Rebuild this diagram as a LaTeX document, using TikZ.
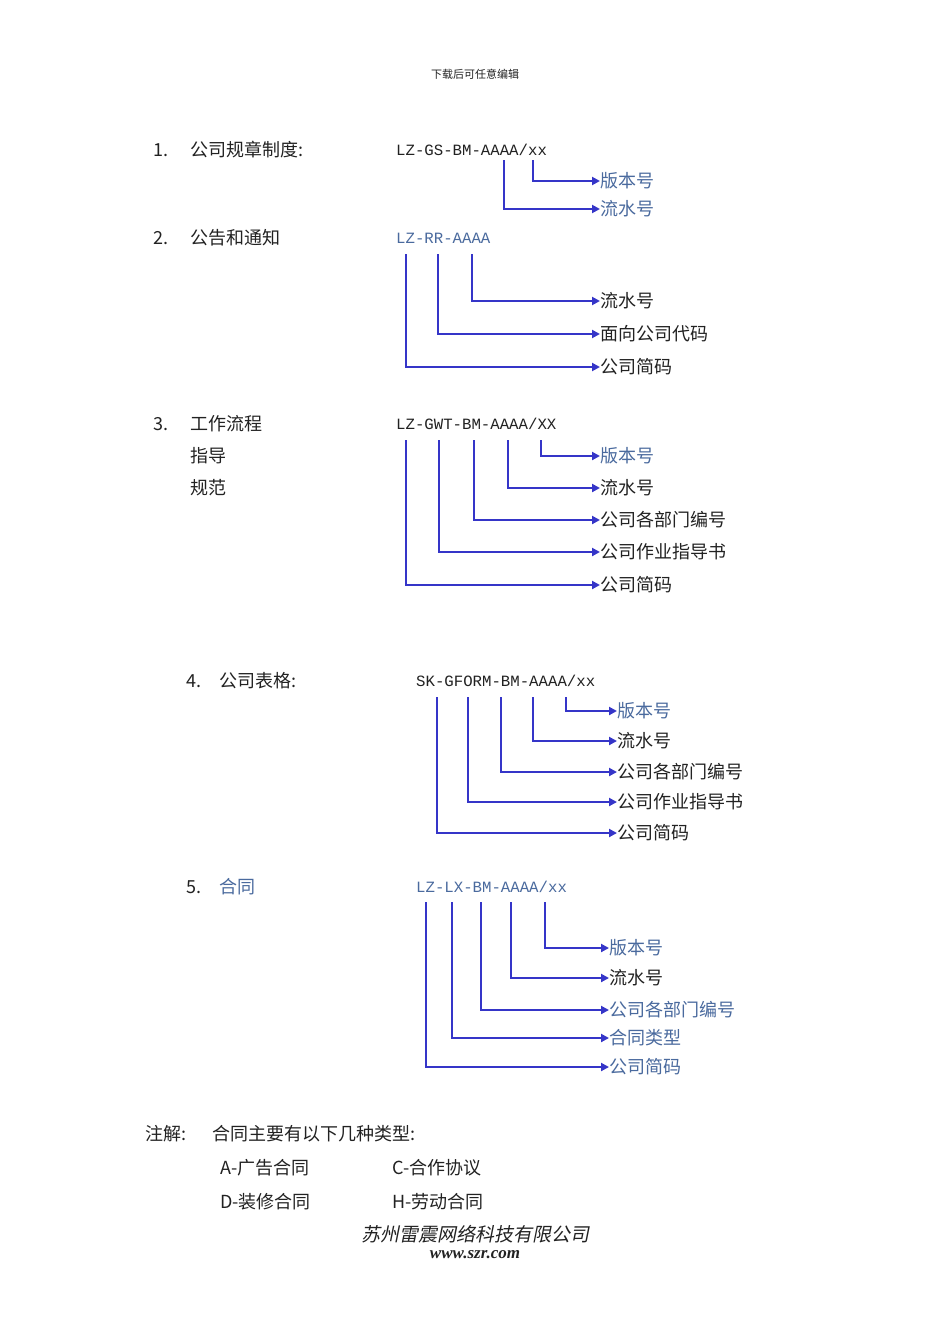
\documentclass[tikz,border=0pt]{standalone}
\usepackage{fontspec}
\setmainfont{Liberation Serif}
\newfontfamily\cjk{Noto Sans CJK SC}
\newfontfamily\cjkit[FakeSlant=0.2]{Noto Sans CJK SC}
\newfontfamily\codefont{Liberation Mono}
\usetikzlibrary{arrows.meta}
\definecolor{lineblue}{HTML}{3535C8}
\definecolor{txtblue}{HTML}{4A6A9E}
\definecolor{txtdark}{HTML}{222222}
\tikzset{
 lbl/.style={anchor=west,inner sep=0pt,font=\cjk\fontsize{18}{18}\selectfont,text=txtdark},
 blbl/.style={lbl,text=txtblue},
 code/.style={anchor=west,inner sep=0pt,font=\codefont\fontsize{15.7}{15.7}\selectfont,text=txtdark},
 bcode/.style={code,text=txtblue},
 head/.style={anchor=west,inner sep=0pt,font=\cjk\fontsize{18}{18}\selectfont,text=txtdark},
 conn/.style={draw=lineblue,line width=2.8pt,-{Triangle[length=8pt,width=8pt]}},
}
\newcommand{\branch}[3]{% name, x, topy
 \coordinate (#1t) at (#2,#3);
 \draw[conn] (#1t) |- (#1.west);}
\begin{document}
\begin{tikzpicture}[x=1pt,y=-1pt]
\useasboundingbox[fill=white] (0,0) rectangle (950,1344);
\node[inner sep=0pt,font=\cjk\fontsize{11}{11}\selectfont,text=txtdark] (hdr) at (475,74) {下载后可任意编辑};
% section 1
\node[head] (n1) at (153,150) {1.};
\node[head] (h1) at (190,150) {公司规章制度:};
\node[code] (c1) at (396,150) {LZ-GS-BM-AAAA/xx};
\node[blbl] (a1) at (600,181) {版本号};
\node[blbl] (b1) at (600,209) {流水号};
\branch{a1}{533}{160}
\branch{b1}{504}{160}
% section 2
\node[head] (n2) at (153,238) {2.};
\node[head] (h2) at (190,238) {公告和通知};
\node[bcode] (c2) at (396,238) {LZ-RR-AAAA};
\node[lbl] (a2) at (600,301) {流水号};
\node[lbl] (b2) at (600,334) {面向公司代码};
\node[lbl] (d2) at (600,367) {公司简码};
\branch{a2}{472}{254}
\branch{b2}{438}{254}
\branch{d2}{406}{254}
% section 3
\node[head] (n3) at (153,424) {3.};
\node[head] (h3) at (190,424) {工作流程};
\node[head] (h3b) at (190,456) {指导};
\node[head] (h3c) at (190,488) {规范};
\node[code] (c3) at (396,424) {LZ-GWT-BM-AAAA/XX};
\node[blbl] (a3) at (600,456) {版本号};
\node[lbl] (b3) at (600,488) {流水号};
\node[lbl] (d3) at (600,520) {公司各部门编号};
\node[lbl] (e3) at (600,552) {公司作业指导书};
\node[lbl] (f3) at (600,585) {公司简码};
\branch{a3}{541}{440}
\branch{b3}{508}{440}
\branch{d3}{474}{440}
\branch{e3}{439}{440}
\branch{f3}{406}{440}
% section 4
\node[head] (n4) at (186,681) {4.};
\node[head] (h4) at (219,681) {公司表格:};
\node[code] (c4) at (416,681) {SK-GFORM-BM-AAAA/xx};
\node[blbl] (a4) at (617,711) {版本号};
\node[lbl] (b4) at (617,741) {流水号};
\node[lbl] (d4) at (617,772) {公司各部门编号};
\node[lbl] (e4) at (617,802) {公司作业指导书};
\node[lbl] (f4) at (617,833) {公司简码};
\branch{a4}{566}{697}
\branch{b4}{533}{697}
\branch{d4}{501}{697}
\branch{e4}{468}{697}
\branch{f4}{437}{697}
% section 5
\node[head] (n5) at (186,887) {5.};
\node[head,text=txtblue] (h5) at (219,887) {合同};
\node[bcode] (c5) at (416,887) {LZ-LX-BM-AAAA/xx};
\node[blbl] (a5) at (609,948) {版本号};
\node[lbl] (b5) at (609,978) {流水号};
\node[blbl] (d5) at (609,1010) {公司各部门编号};
\node[blbl] (e5) at (609,1038) {合同类型};
\node[blbl] (f5) at (609,1067) {公司简码};
\branch{a5}{545}{902}
\branch{b5}{511}{902}
\branch{d5}{481}{902}
\branch{e5}{452}{902}
\branch{f5}{426}{902}
% notes
\node[head] (nt) at (145,1134) {注解:};
\node[head] (nt2) at (212,1134) {合同主要有以下几种类型:};
\node[head] (ta) at (220,1168) {A-广告合同};
\node[head] (tc) at (392,1168) {C-合作协议};
\node[head] (td) at (220,1202) {D-装修合同};
\node[head] (th) at (392,1202) {H-劳动合同};
\node[inner sep=0pt,font=\cjkit\fontsize{19}{19}\selectfont,text=txtdark] (ft) at (475,1234) {苏州雷震网络科技有限公司};
\node[inner sep=0pt,font=\itshape\bfseries\fontsize{17}{17}\selectfont,text=txtdark] (ft2) at (475,1255) {www.szr.com};
\end{tikzpicture}
\end{document}
